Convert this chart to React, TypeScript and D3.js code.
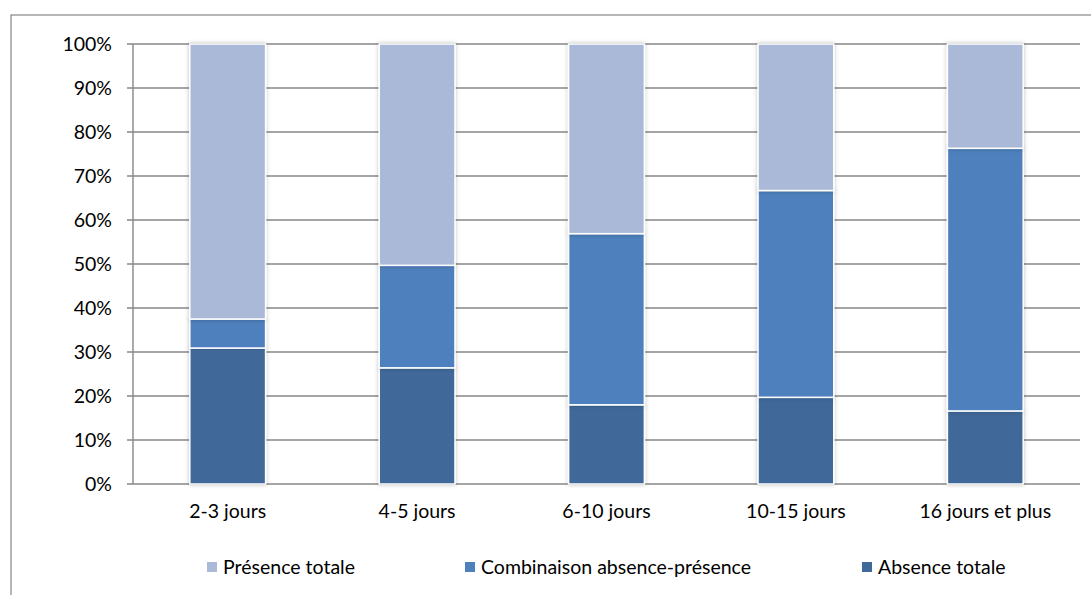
import React, { useEffect } from "react";
import * as d3 from "d3";

const categories = ["2-3 jours", "4-5 jours", "6-10 jours", "10-15 jours", "16 jours et plus"];
const absenceTotale = [30.9, 26.4, 18.0, 19.7, 16.6];
const combinaison = [6.6, 23.3, 38.9, 47.0, 59.7];
const presenceTotale = [62.5, 50.3, 43.1, 33.3, 23.7];
const yTicks = [0, 10, 20, 30, 40, 50, 60, 70, 80, 90, 100];

const seriesNames = ["Présence totale", "Combinaison absence-présence", "Absence totale"];
const seriesColors = ["#AAB9D7", "#4E80BC", "#3F6999"];

const W = 1091;
const H = 595;
const FONT = "Lato, 'Open Sans', sans-serif";
const FS = 19.5;

export default function App() {
  useEffect(() => {
    document.body.style.margin = "0";
  }, []);

  const x = d3
    .scaleBand<string>()
    .domain(categories)
    .range([133, 1080])
    .paddingInner(0.6)
    .paddingOuter(0.3);
  const y = d3.scaleLinear().domain([0, 100]).range([484, 44]);

  const rows = categories.map((c, i) => ({
    cat: c,
    absence: absenceTotale[i],
    combi: combinaison[i],
    presence: presenceTotale[i],
  }));
  const stack = d3.stack<any>().keys(["absence", "combi", "presence"]);
  const stacked = stack(rows);
  const colorByKey: Record<string, string> = {
    absence: seriesColors[2],
    combi: seriesColors[1],
    presence: seriesColors[0],
  };

  const legendItems = [
    { name: seriesNames[0], color: seriesColors[0], x: 207 },
    { name: seriesNames[1], color: seriesColors[1], x: 465 },
    { name: seriesNames[2], color: seriesColors[2], x: 862 },
  ];

  return (
    <svg width={W} height={H} style={{ display: "block" }} fontFamily={FONT}>
      <defs>
        <filter id="sh" x="-20%" y="-5%" width="140%" height="110%">
          <feDropShadow dx="0" dy="0" stdDeviation="2" floodColor="#000" floodOpacity="0.25" />
        </filter>
      </defs>
      <rect x={0} y={0} width={W} height={H} fill="#fff" />
      <rect x={11} y={15} width={W + 20} height={H + 20} fill="#fff" stroke="#868686" strokeWidth={1.2} />

      {/* gridlines */}
      {yTicks.map((t) => (
        <g key={t}>
          <line x1={127} x2={1080} y1={y(t)} y2={y(t)} stroke="#878787" strokeWidth={1.4} />
          <text x={112} y={y(t) + 6.5} textAnchor="end" fontSize={FS} fill="#000">
            {t}%
          </text>
        </g>
      ))}
      <line x1={133} x2={133} y1={y(100)} y2={y(0)} stroke="#878787" strokeWidth={1.4} />

      {/* bars */}
      {stacked.map((layer) => (
        <g key={layer.key}>
          {layer.map((d, i) => (
            <rect
              key={i}
              x={x(categories[i])!}
              y={y(d[1])}
              width={x.bandwidth()}
              height={y(d[0]) - y(d[1])}
              fill={colorByKey[layer.key]}
              stroke="#fff"
              strokeWidth={1.5}
              filter="url(#sh)"
            />
          ))}
        </g>
      ))}

      {/* category labels */}
      {categories.map((c) => (
        <text
          key={c}
          x={x(c)! + x.bandwidth() / 2}
          y={518}
          textAnchor="middle"
          fontSize={FS}
          fill="#000"
        >
          {c}
        </text>
      ))}

      {/* legend */}
      {legendItems.map((l) => (
        <g key={l.name}>
          <rect x={l.x} y={562} width={10} height={10} fill={l.color} />
          <text x={l.x + 16} y={574} fontSize={FS} fill="#000">
            {l.name}
          </text>
        </g>
      ))}
    </svg>
  );
}
